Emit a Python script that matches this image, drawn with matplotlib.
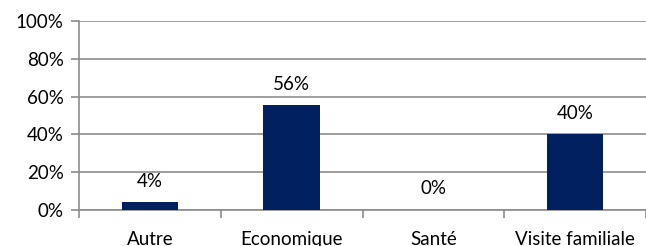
import matplotlib
matplotlib.use("Agg")
import matplotlib.pyplot as plt

categories = ["Autre", "Economique", "Santé", "Visite familiale"]
values = [4, 55.5, 0, 40]
value_labels = ["4%", "56%", "0%", "40%"]
yticks = [0, 20, 40, 60, 80, 100]
ytick_labels = ["0%", "20%", "40%", "60%", "80%", "100%"]

plt.rcParams["font.family"] = ["Lato", "DejaVu Sans"]

fig = plt.figure(figsize=(6.46, 2.46), dpi=100)
ax = fig.add_axes([79 / 646, 36 / 246, 567 / 646, 189 / 246])

x = list(range(len(categories)))
ax.bar(x, values, width=0.4, color="#002060", zorder=3)

for xi, v, lab in zip(x, values, value_labels):
    ax.annotate(lab, (xi, v), xytext=(0, 9), textcoords="offset points",
                ha="center", va="bottom", fontsize=13.5, color="#000000")

ax.set_xlim(-0.5, len(categories) - 0.5)
ax.set_ylim(0, 100)
ax.set_yticks(yticks)
ax.set_yticklabels(ytick_labels, fontsize=13.5)
ax.yaxis.grid(True, color="#8c8c8c", linewidth=1.2, zorder=0)

ax.set_xticks(x)
ax.set_xticklabels(categories, fontsize=13.5)
ax.set_xticks([i - 0.5 for i in range(len(categories) + 1)], minor=True)
ax.tick_params(axis="x", which="major", length=0, pad=15)
ax.tick_params(axis="x", which="minor", length=6, color="#8c8c8c", width=1.2)
ax.tick_params(axis="y", length=6, color="#8c8c8c", width=1.2, pad=5)

for s in ["top", "right"]:
    ax.spines[s].set_visible(False)
for s in ["left", "bottom"]:
    ax.spines[s].set_color("#8c8c8c")
    ax.spines[s].set_linewidth(1.2)

fig.savefig("out.png", dpi=100)
